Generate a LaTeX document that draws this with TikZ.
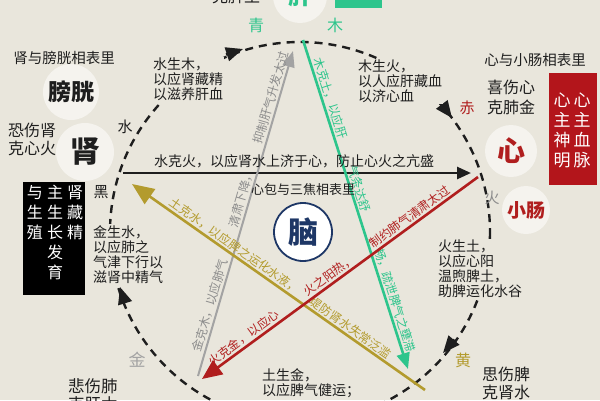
\documentclass[tikz,border=0pt]{standalone}
\usepackage{fontspec}
\setmainfont{Noto Sans CJK SC}
\usetikzlibrary{arrows.meta}
\definecolor{bg}{HTML}{E9E6DC}
\definecolor{blob}{HTML}{F5F3EE}
\definecolor{gr}{HTML}{2DC58C}
\definecolor{rd}{HTML}{B01E1E}
\definecolor{rbox}{HTML}{B3151B}
\definecolor{yl}{HTML}{B39B2E}
\definecolor{gy}{HTML}{A3A3A3}
\definecolor{gyt}{HTML}{8C8C8C}
\definecolor{nb}{HTML}{1E3766}
\definecolor{tx}{HTML}{1E1E1E}
\newcommand{\fs}[2]{\fontsize{#1}{#2}\selectfont}
\begin{document}
\begin{tikzpicture}[x=1pt,y=-1pt,
  blk/.style={inner sep=0pt, text=tx, align=left, font=\fs{14}{15}},
  blkbg/.style={blk, fill=bg, inner sep=1pt},
  ltx/.style={sloped, above, inner sep=1.5pt, font=\fs{12}{12}},
  lab/.style={inner sep=0pt, text=tx},
  organ/.style={circle, fill=blob, inner sep=0pt, font=\bfseries\fs{#1}{#1}},
  colr/.style={inner sep=0pt, font=\fs{15}{15}},
  vcol/.style={inner sep=0pt, text=white, align=center, anchor=north},
  ring/.style={tx, line width=2.4pt, dash pattern=on 8pt off 6pt},
  ringtip/.style={tx, line width=2.4pt, -{Triangle[length=17pt,width=14pt]}}
]
\fill[bg] (0,0) rectangle (600,400);
\useasboundingbox (0,0) rectangle (600,400);

% organ nodes
\node[organ=24, text=gr, minimum size=54pt] (gan) at (300,-4) {肝};
\fill[gr] (335,-1) rectangle (382,8);
\node[organ=23, text=tx, minimum size=56pt] (pg) at (71,92) {膀胱};
\node[organ=30, text=tx, minimum size=58pt] (shen) at (85,152) {肾};
\node[organ=28, text=rd, minimum size=52pt] (xin) at (511,151) {心};
\node[organ=19, text=rd, minimum size=48pt] (xc) at (526,210) {小肠};

% ring
\coordinate (c0) at (300,232);
\draw[ring] (c0) circle[radius=190];
\coordinate (a1s) at (226,54.5); \coordinate (a1e) at (243,49);
\coordinate (a2s) at (441.5,104); \coordinate (a2e) at (452,118);
\coordinate (a3s) at (454.5,339.5); \coordinate (a3e) at (443,353);
\coordinate (a4s) at (125,303); \coordinate (a4e) at (120,287);
\draw[ringtip] (a1s) -- (a1e);
\draw[ringtip] (a2s) -- (a2e);
\draw[ringtip] (a3s) -- (a3e);
\draw[ringtip] (a4s) -- (a4e);

% inner connectors
\coordinate (hS) at (123,173); \coordinate (hE) at (471,173);
\coordinate (gS) at (198,376); \coordinate (gE) at (293,51);
\coordinate (nS) at (303,40); \coordinate (nE) at (408,369);
\coordinate (yS) at (425,390); \coordinate (yE) at (132,184);
\coordinate (rS) at (478,177); \coordinate (rE) at (202,379);

\draw[tx, line width=2.6pt, -{Triangle[length=14pt,width=12pt]}] (hS) -- (hE);
\draw[gy, line width=2pt, -{Triangle[length=16pt,width=12pt]}] (gS) -- (gE)
  node[ltx, text=gyt, pos=0.21] (g1) {金克木，以应肺气}
  node[ltx, text=gyt, pos=0.54] (g2) {清肃下降，}
  node[ltx, text=gyt, pos=0.85] (g3) {抑制肝气升发太过};
\draw[gr, line width=2.6pt, -{Triangle[length=16pt,width=13pt]}] (nS) -- (nE)
  node[ltx, text=gr, pos=0.185] (n1) {木克土，以应肝}
  node[ltx, text=gr, pos=0.46] (n2) {气条达舒}
  node[ltx, text=gr, pos=0.80] (n3) {畅，疏泄脾气之壅滞};
\draw[yl, line width=2.6pt, -{Triangle[length=22pt,width=18pt]}] (yS) -- (yE)
  node[ltx, text=yl, pos=0.27] (y2) {堤防肾水失常泛滥}
  node[ltx, text=yl, pos=0.665] (y1) {土克水，以应脾之运化水液，};
\draw[rd, line width=2.6pt, -{Triangle[length=20pt,width=17pt]}] (rS) -- (rE)
  node[ltx, text=rd, pos=0.23] (r3) {制约肺气清肃太过}
  node[ltx, text=rd, pos=0.52] (r2) {火之阳热，}
  node[ltx, text=rd, pos=0.83] (r1) {火克金，以应心};

\node[lab, font=\fs{14}{14}] (hx) at (294,161) {水克火，以应肾水上济于心，防止心火之亢盛};

% brain
\node[circle, draw=nb, line width=1.8pt, fill=white, minimum size=58pt, inner sep=0pt,
      text=nb, font=\bfseries\fs{30}{30}] (nao) at (303,232) {脑};
\node[lab, font=\fs{13}{13}] (l3) at (303,190) {心包与三焦相表里};

% generating texts
\node[blkbg, anchor=north west] (sm) at (152,57) {水生木，\\以应肾藏精\\以滋养肝血};
\node[blkbg, anchor=north west] (mh) at (357,59) {木生火，\\以人应肝藏血\\以济心血};
\node[blkbg, anchor=north west] (ht) at (437,239) {火生土，\\以应心阳\\温煦脾土，\\助脾运化水谷};
\node[blkbg, anchor=north west] (js) at (92,224) {金生水，\\以应肺之\\气津下行以\\滋肾中精气};
\node[blk, anchor=north west] (tj) at (262,368) {土生金，\\以应脾气健运；};

% relation labels
\node[lab, font=\fs{14.5}{15}] (l1) at (64,58) {肾与膀胱相表里};
\node[lab, font=\fs{14.5}{15}] (l2) at (535,60) {心与小肠相表里};

% emotion texts
\node[lab, font=\fs{16}{18}, align=left, anchor=north west] (e1) at (8,123) {恐伤肾\\克心火};
\node[lab, font=\fs{16}{20}, align=left, anchor=north west] (e2) at (487,80) {喜伤心\\克肺金};
\node[lab, font=\fs{16}{18}, align=left, anchor=north west] (e3) at (482,367) {思伤脾\\克肾水};
\node[lab, font=\fs{16.5}{18}, align=left, anchor=north west] (e4) at (68,378) {悲伤肺\\克肝木};
\node[lab, font=\fs{16}{16}] (e5) at (236,-4) {克脾土};

% colour labels
\node[colr, text=tx] (k1) at (125,127) {水};
\node[colr, text=tx] (k2) at (101,192) {黑};
\node[colr, text=gy, font=\fs{17}{17}] (k3) at (137,360) {金};
\node[colr, text=yl, font=\fs{16}{16}] (k4) at (463,360) {黄};
\node[colr, text=gyt] (k5) at (492,198) {火};
\node[colr, text=rd] (k6) at (467,108) {赤};
\node[colr, text=gr, font=\fs{16}{16}] (k7) at (256,25) {青};
\node[colr, text=gr, font=\fs{16}{16}] (k8) at (335,25) {木};

% black box
\node[fill=black, minimum width=62pt, minimum height=113pt, anchor=north west, inner sep=0pt] (bbox) at (23,182) {};
\node[vcol, font=\fs{16}{20}] (b1) at (75,185) {肾\\藏\\精};
\node[vcol, font=\fs{16}{20}] (b2) at (55,185) {主\\生\\长\\发\\育};
\node[vcol, font=\fs{16}{20}] (b3) at (35,185) {与\\生\\殖};

% red box
\node[fill=rbox, minimum width=48pt, minimum height=112pt, anchor=north west, inner sep=0pt] (rbx) at (549,73) {};
\node[vcol, font=\fs{17}{20}] (x1) at (582,93) {心\\主\\血\\脉};
\node[vcol, font=\fs{17}{20}] (x2) at (562,93) {心\\主\\神\\明};
\end{tikzpicture}
\end{document}
